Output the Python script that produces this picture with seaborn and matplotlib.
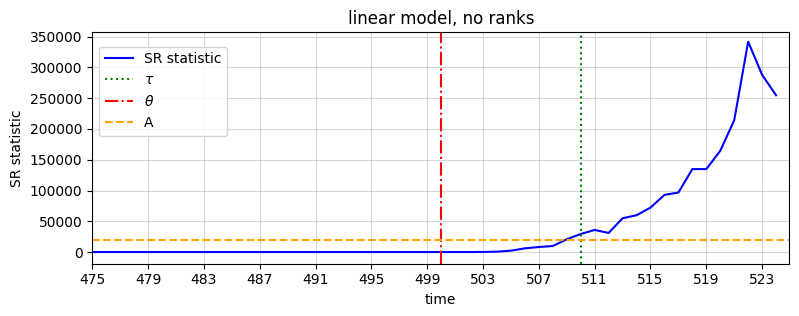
import matplotlib
matplotlib.use("Agg")
import matplotlib.pyplot as plt
import seaborn as sns
import numpy as np
import pandas as pd

time = list(range(475, 525))
sr_values = [0] * 28 + [200, 600, 2200, 6000, 8200, 9800, 20700, 29300, 35900, 31000,
                        54900, 59800, 72200, 92900, 96700, 134800, 134800, 164600,
                        214000, 341800, 288000, 254800]
tau = 510
theta = 500
A = 20000
x_ticks = list(range(475, 525, 4))

df = pd.DataFrame({"time": time, "SR statistic": sr_values})

fig, ax = plt.subplots(figsize=(7.99, 3.16), dpi=100)
fig.subplots_adjust(left=0.1155, right=0.9879, top=0.8978, bottom=0.166)

sns.lineplot(data=df, x="time", y="SR statistic", color="blue", ax=ax, label="SR statistic")
ax.axvline(tau, color="green", linestyle=":", label=r"$\tau$")
ax.axvline(theta, color="red", linestyle="-.", label=r"$\theta$")
ax.axhline(A, color="orange", linestyle="--", label="A")

ax.set_xlim(475, 524.95)
ax.set_ylim(-18700, 357150)
ax.set_xticks(x_ticks)
ax.grid(True, alpha=0.5)
ax.set_title("linear model, no ranks")
ax.set_xlabel("time")
ax.set_ylabel("SR statistic")
ax.legend(loc="upper left", bbox_to_anchor=(0.01, 0.938), borderaxespad=0)

fig.savefig("out.png", dpi=100)
